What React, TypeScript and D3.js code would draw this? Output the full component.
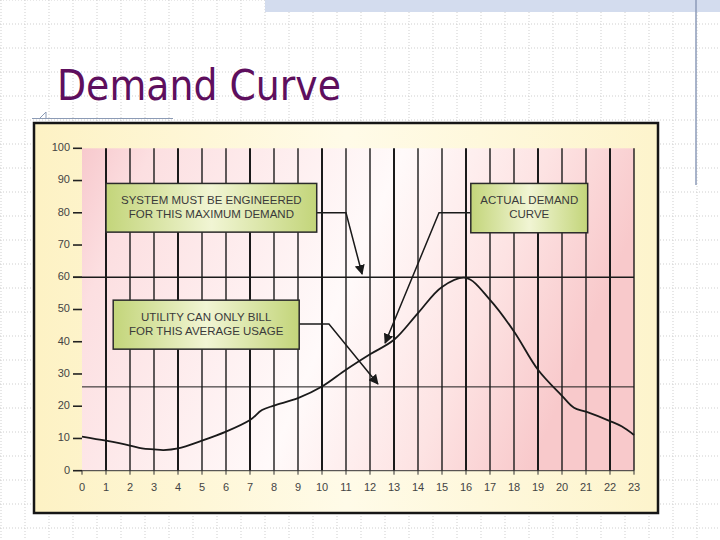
import * as d3 from 'd3';

// hourly demand (hour, % of peak)
const hours = [0, 1, 2, 2.5, 3, 3.4, 4, 5, 6, 7, 7.5, 8, 9, 10, 11, 12, 13, 14, 15, 16, 17, 18, 19, 20, 20.5, 21, 22, 22.5, 23];
const demand = [10.6, 9.3, 7.8, 6.9, 6.6, 6.4, 6.9, 9.3, 12.1, 15.7, 18.8, 20.2, 22.5, 26.1, 31.3, 36.1, 40.6, 48.9, 57, 59.8, 53, 43.2, 31.3, 23.2, 19.5, 18.3, 15.4, 13.7, 11.1];

const xTicks = d3.range(0, 24);
const yTicks = d3.range(0, 101, 10);
const maxDemand = 60;
const avgUsage = 26;

const notes = [
  { lines: ['SYSTEM MUST BE ENGINEERED', 'FOR THIS MAXIMUM DEMAND'], box: [1, 89.1, 9.78, 74], path: [[9.78, 80], [11, 80], [11.67, 61]] },
  { lines: ['ACTUAL DEMAND', 'CURVE'], box: [16.2, 89.1, 21.07, 73.8], path: [[16.2, 80], [14.875, 80], [12.63, 39.6]] },
  { lines: ['UTILITY CAN ONLY BILL', 'FOR THIS AVERAGE USAGE'], box: [1.3, 52.9, 9.05, 37.7], path: [[9.05, 45.5], [10.29, 45.5], [12.33, 26.9]] },
];

const W = 720;
const H = 540;
const PLOT = { left: 82, right: 634, top: 148.3, bottom: 470.7 };

export default function App() {
  const x = d3.scaleLinear().domain([0, 23]).range([PLOT.left, PLOT.right]);
  const y = d3.scaleLinear().domain([0, 100]).range([PLOT.bottom, PLOT.top]);

  const line = d3
    .line<number>()
    .x((_, i) => x(hours[i]))
    .y((d) => y(d))
    .curve(d3.curveCatmullRom.alpha(0.5));

  const gridX = d3.range(1, W, 24);
  const gridY = d3.range(0, H, 24);
  const font = '"Liberation Sans", Arial, sans-serif';

  return (
    <div style={{ position: 'fixed', left: 0, top: 0 }}>
      <svg width={W} height={H} style={{ display: 'block', background: '#fff' }}>
        <defs>
          <linearGradient id="panel" x1="0" x2="1" y1="0" y2="0">
            <stop offset="0%" stopColor="#fdf2c4" />
            <stop offset="50%" stopColor="#fffbe8" />
            <stop offset="100%" stopColor="#fdf4cc" />
          </linearGradient>
          <linearGradient id="pink" x1="0" x2="1" y1="0" y2="0.25">
            <stop offset="0%" stopColor="#f7c9cd" />
            <stop offset="12%" stopColor="#fcdfe1" />
            <stop offset="55%" stopColor="#fffafa" />
            <stop offset="80%" stopColor="#fde3e3" />
            <stop offset="100%" stopColor="#f8c9cb" />
          </linearGradient>
          <linearGradient id="green" x1="0" x2="1" y1="0" y2="0">
            <stop offset="0%" stopColor="#c3d57a" />
            <stop offset="50%" stopColor="#f1f5d4" />
            <stop offset="100%" stopColor="#c3d57a" />
          </linearGradient>
          <marker id="arrow" viewBox="0 0 10 10" refX="9" refY="5" markerWidth="10" markerHeight="10" markerUnits="userSpaceOnUse" orient="auto">
            <path d="M0,0 L10,5 L0,10 z" fill="#1a1a1a" />
          </marker>
        </defs>

        {/* slide background grid */}
        {gridX.map((gx) => (
          <line key={'gx' + gx} x1={gx} x2={gx} y1={0} y2={H} stroke="#cfcfcf" strokeWidth={1} strokeDasharray="1,2" />
        ))}
        {gridY.map((gy) => (
          <line key={'gy' + gy} x1={0} x2={W} y1={gy} y2={gy} stroke="#cfcfcf" strokeWidth={1} strokeDasharray="1,2" />
        ))}
        <rect x={265} y={0} width={W - 265} height={12} fill="#d3dcee" />
        <line x1={696} x2={696} y1={0} y2={185} stroke="#8d9bb8" strokeWidth={1.5} />

        {/* title */}
        <text x={57} y={100} fontFamily='Tahoma, "DejaVu Sans", sans-serif' fontSize={42} fill="#5e0f5e" textLength={284} lengthAdjust="spacingAndGlyphs">
          Demand Curve
        </text>
        <line x1={32} x2={173} y1={118.5} y2={118.5} stroke="#8c9bb5" strokeWidth={1} />
        <path d="M40,118 L46,112 L46,118" fill="none" stroke="#8c9bb5" strokeWidth={1} />

        {/* panel */}
        <rect x={34} y={123} width={624} height={390} fill="url(#panel)" stroke="#161616" strokeWidth={2.5} />
        <rect x={PLOT.left} y={PLOT.top} width={PLOT.right - PLOT.left} height={PLOT.bottom - PLOT.top} fill="url(#pink)" />

        {/* hour lines */}
        {xTicks.slice(1).map((t) => (
          <line key={'v' + t} x1={x(t)} x2={x(t)} y1={PLOT.top} y2={PLOT.bottom} stroke="#1a1a1a" strokeWidth={t % 3 === 1 ? 2 : 1.4} />
        ))}

        {/* max and average lines */}
        <line x1={73} x2={x(23)} y1={y(maxDemand)} y2={y(maxDemand)} stroke="#1a1a1a" strokeWidth={1.6} />
        <line x1={x(0)} x2={x(23)} y1={y(avgUsage)} y2={y(avgUsage)} stroke="#1a1a1a" strokeWidth={1} />

        {/* axes */}
        <line x1={x(0)} x2={x(23)} y1={y(0)} y2={y(0)} stroke="#333" strokeWidth={1} />
        {yTicks.map((t) => (
          <g key={'y' + t}>
            <line x1={73} x2={x(0)} y1={y(t)} y2={y(t)} stroke="#222" strokeWidth={1.6} />
            <text x={70} y={y(t)} textAnchor="end" dominantBaseline="middle" fontFamily={font} fontSize={11} fill="#444">
              {t}
            </text>
          </g>
        ))}
        {xTicks.map((t) => (
          <g key={'x' + t}>
            <line x1={x(t)} x2={x(t)} y1={y(0)} y2={y(0) + 4} stroke="#333" strokeWidth={1} />
            <text x={x(t)} y={488} textAnchor="middle" dominantBaseline="middle" fontFamily={font} fontSize={11} fill="#444">
              {t}
            </text>
          </g>
        ))}

        {/* demand curve */}
        <path d={line(demand) ?? ''} fill="none" stroke="#1a1a1a" strokeWidth={1.8} />

        {/* annotations */}
        {notes.map((n, i) => {
          const [x0, y0, x1, y1] = n.box;
          const bx = x(x0);
          const by = y(y0);
          const bw = x(x1) - bx;
          const bh = y(y1) - by;
          const pts = n.path.map(([px, py]) => [x(px), y(py)] as [number, number]);
          return (
            <g key={'n' + i}>
              <path d={d3.line()(pts) ?? ''} fill="none" stroke="#1a1a1a" strokeWidth={1.5} markerEnd="url(#arrow)" />
              <rect x={bx} y={by} width={bw} height={bh} fill="url(#green)" stroke="#2a2a2a" strokeWidth={1.5} />
              {n.lines.map((l, j) => (
                <text
                  key={j}
                  x={bx + bw / 2}
                  y={by + bh / 2 + (j - (n.lines.length - 1) / 2) * 14}
                  textAnchor="middle"
                  dominantBaseline="middle"
                  fontFamily={font}
                  fontSize={11.5}
                  fill="#3a3a3a"
                >
                  {l}
                </text>
              ))}
            </g>
          );
        })}
      </svg>
    </div>
  );
}
